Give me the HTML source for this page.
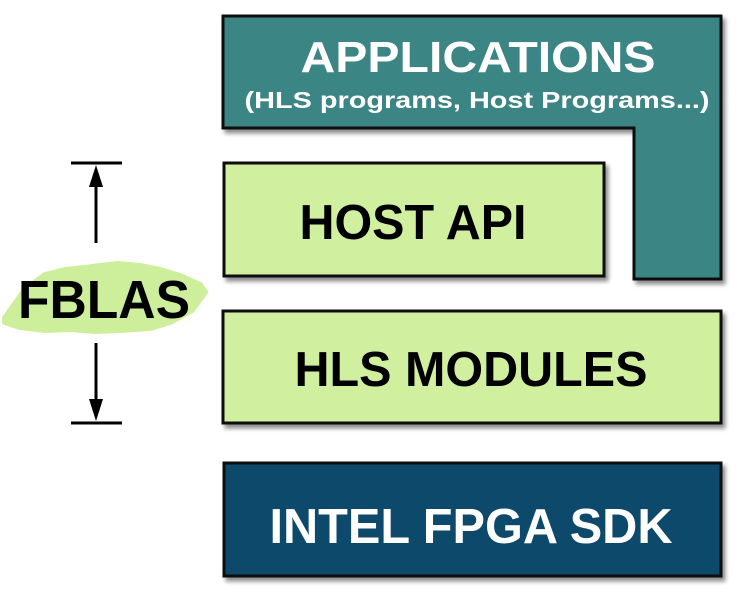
<!DOCTYPE html>
<html><head><style>html,body{margin:0;padding:0;background:#fff;}</style></head>
<body>
<svg width="745" height="591" viewBox="0 0 745 591" xmlns="http://www.w3.org/2000/svg" font-family="'Liberation Sans', sans-serif" font-weight="bold">
<defs>
<filter id="sh" x="-5%" y="-5%" width="115%" height="125%"><feDropShadow dx="3" dy="4" stdDeviation="2" flood-color="#000" flood-opacity="0.45"/></filter>
</defs>
<path d="M223,16 H721 V279 H634 V128 H223 Z" fill="#3b8584" stroke="#111" stroke-width="3" filter="url(#sh)"/>
<text x="478" y="72" font-size="44" fill="#fff" text-anchor="middle" textLength="355" lengthAdjust="spacingAndGlyphs">APPLICATIONS</text>
<text x="477" y="108" font-size="23" fill="#fff" text-anchor="middle" textLength="465" lengthAdjust="spacingAndGlyphs">(HLS programs, Host Programs...)</text>
<rect x="224" y="163" width="380" height="113" fill="#d0f0a0" stroke="#111" stroke-width="3" filter="url(#sh)"/>
<text x="413" y="239" font-size="49" fill="#000" text-anchor="middle" textLength="227" lengthAdjust="spacingAndGlyphs">HOST API</text>
<rect x="223" y="311" width="498" height="112" fill="#d0f0a0" stroke="#111" stroke-width="3" filter="url(#sh)"/>
<text x="471" y="386" font-size="49" fill="#000" text-anchor="middle" textLength="353" lengthAdjust="spacingAndGlyphs">HLS MODULES</text>
<rect x="224" y="463" width="497" height="113" fill="#0e486b" stroke="#111" stroke-width="3" filter="url(#sh)"/>
<text x="471" y="543" font-size="49" fill="#fff" text-anchor="middle" textLength="403" lengthAdjust="spacingAndGlyphs">INTEL FPGA SDK</text>
<line x1="71" y1="163" x2="122" y2="163" stroke="#000" stroke-width="3"/>
<line x1="71" y1="423" x2="122" y2="423" stroke="#000" stroke-width="3"/>
<line x1="96" y1="180" x2="96" y2="243" stroke="#000" stroke-width="3"/>
<polygon points="96,165 89,187 103,187" fill="#000"/>
<line x1="96" y1="343" x2="96" y2="405" stroke="#000" stroke-width="3"/>
<polygon points="96,421 89,399 103,399" fill="#000"/>
<path d="M5,318 L25,290 L45,275 L65,270 L85,268 L100,266 L118,264 L140,266 L160,270 L180,276 L200,285 L205,292 L192,310 L170,322 L150,328 L120,330 L95,331 L70,329 L45,330 L20,327 L5,322 Z" fill="#cdef9c" stroke="#cdef9c" stroke-width="6" stroke-linejoin="round"/>
<text x="104" y="318" font-size="54" fill="#000" text-anchor="middle" textLength="172" lengthAdjust="spacingAndGlyphs">FBLAS</text>
</svg>
</body></html>
